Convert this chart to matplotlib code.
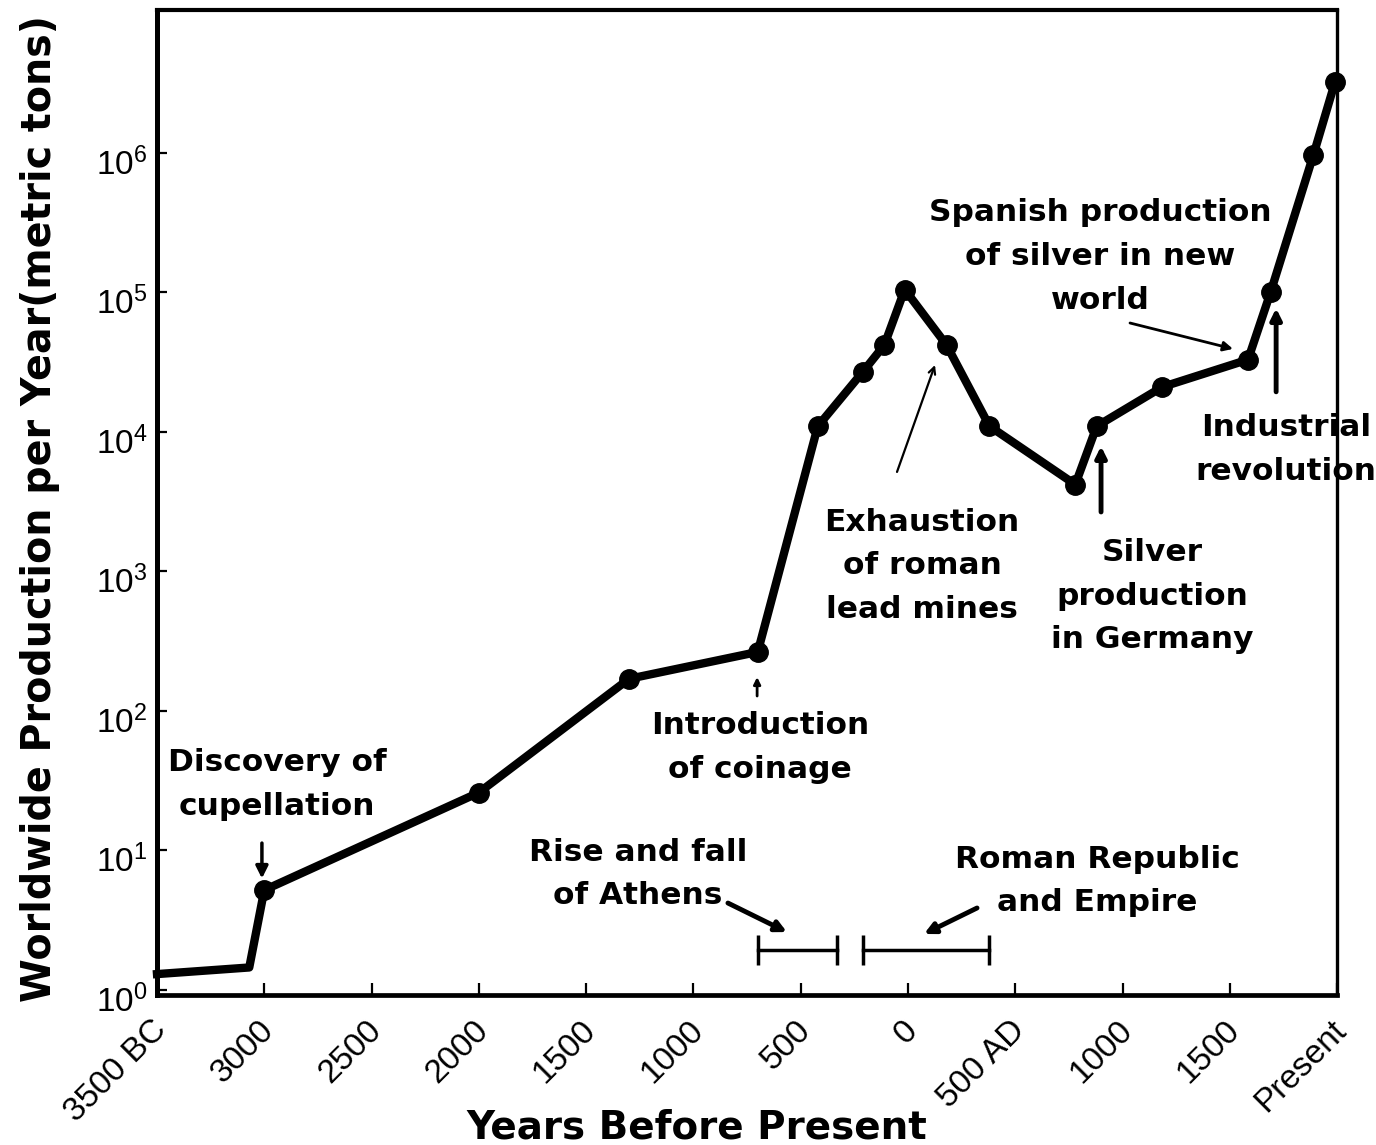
import matplotlib
matplotlib.use("Agg")
import matplotlib.pyplot as plt
from matplotlib.transforms import ScaledTranslation

# Worldwide lead production per year
years = [-3500, -3070, -3000, -2000, -1300, -700, -420, -210, -110, -15,
         180, 380, 780, 880, 1185, 1585, 1690, 1890, 1990]
production = [1.3, 1.45, 5.2, 26, 170, 265, 1.1e4, 2.7e4, 4.2e4, 1.05e5,
              4.2e4, 1.1e4, 4.2e3, 1.1e4, 2.1e4, 3.3e4, 1.0e5, 9.7e5, 3.2e6]
# the first two points are only line corners, no dot
first_marked = 2

xtick_pos = [-3500, -3000, -2500, -2000, -1500, -1000, -500, 0, 500, 1000, 1500, 2000]
xtick_labels = ["3500 BC", "3000", "2500", "2000", "1500", "1000", "500", "0",
                "500 AD", "1000", "1500", "Present"]
ytick_exp = [0, 1, 2, 3, 4, 5, 6]

# historical periods drawn as range bars near the bottom
period_names = ["Rise and fall\nof Athens", "Roman Republic\nand Empire"]
period_start = [-700, -210]
period_end = [-330, 380]

BOLD = dict(family="DejaVu Sans", weight="bold")
NARROW = ["Liberation Sans Narrow", "Liberation Sans", "DejaVu Sans"]

fig = plt.figure(figsize=(13.76, 11.45), dpi=100)
ax = fig.add_axes([0.1141, 0.131, 0.8576, 0.8603])

ax.set_yscale("log")
ax.set_xlim(-3500, 2000)
ax.set_ylim(10 ** -0.036, 10 ** 7.025)

# main series
ax.plot(years, production, color="black", lw=6, solid_joinstyle="round",
        zorder=3, clip_on=False)
ax.plot(years[first_marked:], production[first_marked:], "o", color="black",
        ms=14, zorder=4, clip_on=False)

# period range bars
bar_y = 1.94
for start, end in zip(period_start, period_end):
    ax.plot([start, end], [bar_y, bar_y], color="black", lw=2.5)
    ax.vlines([start, end], bar_y / 1.28, bar_y * 1.28, color="black", lw=2.5)

# --- annotations -------------------------------------------------------
notes = [
    # text, text position, arrow tail, arrow tip, style, lw, head size
    ("Discovery of\ncupellation", (-2941, 29.5), (-3011, 11.3), (-3011, 6.3), "-|>", 2.5, 18),
    ("Introduction\nof coinage", (-689, 55), (-703, 128), (-703, 175), "-|>", 2.0, 10),
    ("Exhaustion\nof roman\nlead mines", (66, 1095), (-51, 5170), (126, 30200), "->", 1.6, 12),
    ("Silver\nproduction\nin Germany", (1138, 667), (900, 2670), (900, 7900), "-|>", 3.5, 16),
    ("Spanish production\nof silver in new\nworld", (895, 180000), (1035, 60400), (1515, 39400), "-|>", 2.0, 14),
    ("Industrial\nrevolution", (1762, 7430), (1716, 19400), (1716, 77000), "-|>", 3.5, 16),
    (period_names[0], (-1258, 6.78), (-839, 4.2), (-564, 2.6), "-|>", 3.5, 16),
    (period_names[1], (881, 6.04), (322, 3.87), (75, 2.52), "-|>", 3.5, 16),
]
for text, tpos, tail, tip, style, lw, head in notes:
    ax.text(tpos[0], tpos[1], text, ha="center", va="center", fontsize=22.5,
            linespacing=1.65, zorder=5, **BOLD)
    ax.annotate("", xy=tip, xytext=tail,
                arrowprops=dict(arrowstyle=style, color="black", lw=lw,
                                mutation_scale=head, shrinkA=0, shrinkB=0))

# --- axes styling ------------------------------------------------------
for side, width in [("left", 3.6), ("bottom", 3.4), ("top", 3.0), ("right", 2.4)]:
    ax.spines[side].set_linewidth(width)
    ax.spines[side].set_color("black")

ax.set_xticks(xtick_pos)
ax.set_xticklabels(xtick_labels, rotation=45, ha="right", va="top",
                   rotation_mode="anchor", fontsize=24, family=NARROW)
ax.tick_params(axis="x", direction="in", length=9, width=1.6, pad=14)
shift = ScaledTranslation(-6 / 100, 0, fig.dpi_scale_trans)
for lab in ax.get_xticklabels():
    lab.set_transform(lab.get_transform() + shift)

ax.set_yticks([10.0 ** e for e in ytick_exp])
ax.set_yticklabels([rf"$\mathregular{{10^{{{e}}}}}$" for e in ytick_exp],
                   fontsize=24, family=NARROW)
ax.yaxis.set_minor_locator(plt.NullLocator())
ax.tick_params(axis="y", direction="in", length=7, width=1.6, pad=7)
down = ScaledTranslation(0, -8 / 100, fig.dpi_scale_trans)
for lab in ax.get_yticklabels():
    lab.set_transform(lab.get_transform() + down)

fig.text(40 / 1376, 0.556, "Worldwide Production per Year(metric tons)",
         rotation=90, ha="center", va="center", fontsize=28.5, **BOLD)
fig.text(0.5065, 0.0061, "Years Before Present", ha="center", va="baseline",
         fontsize=28, **BOLD)

fig.savefig("out.png", dpi=100, facecolor="white")
